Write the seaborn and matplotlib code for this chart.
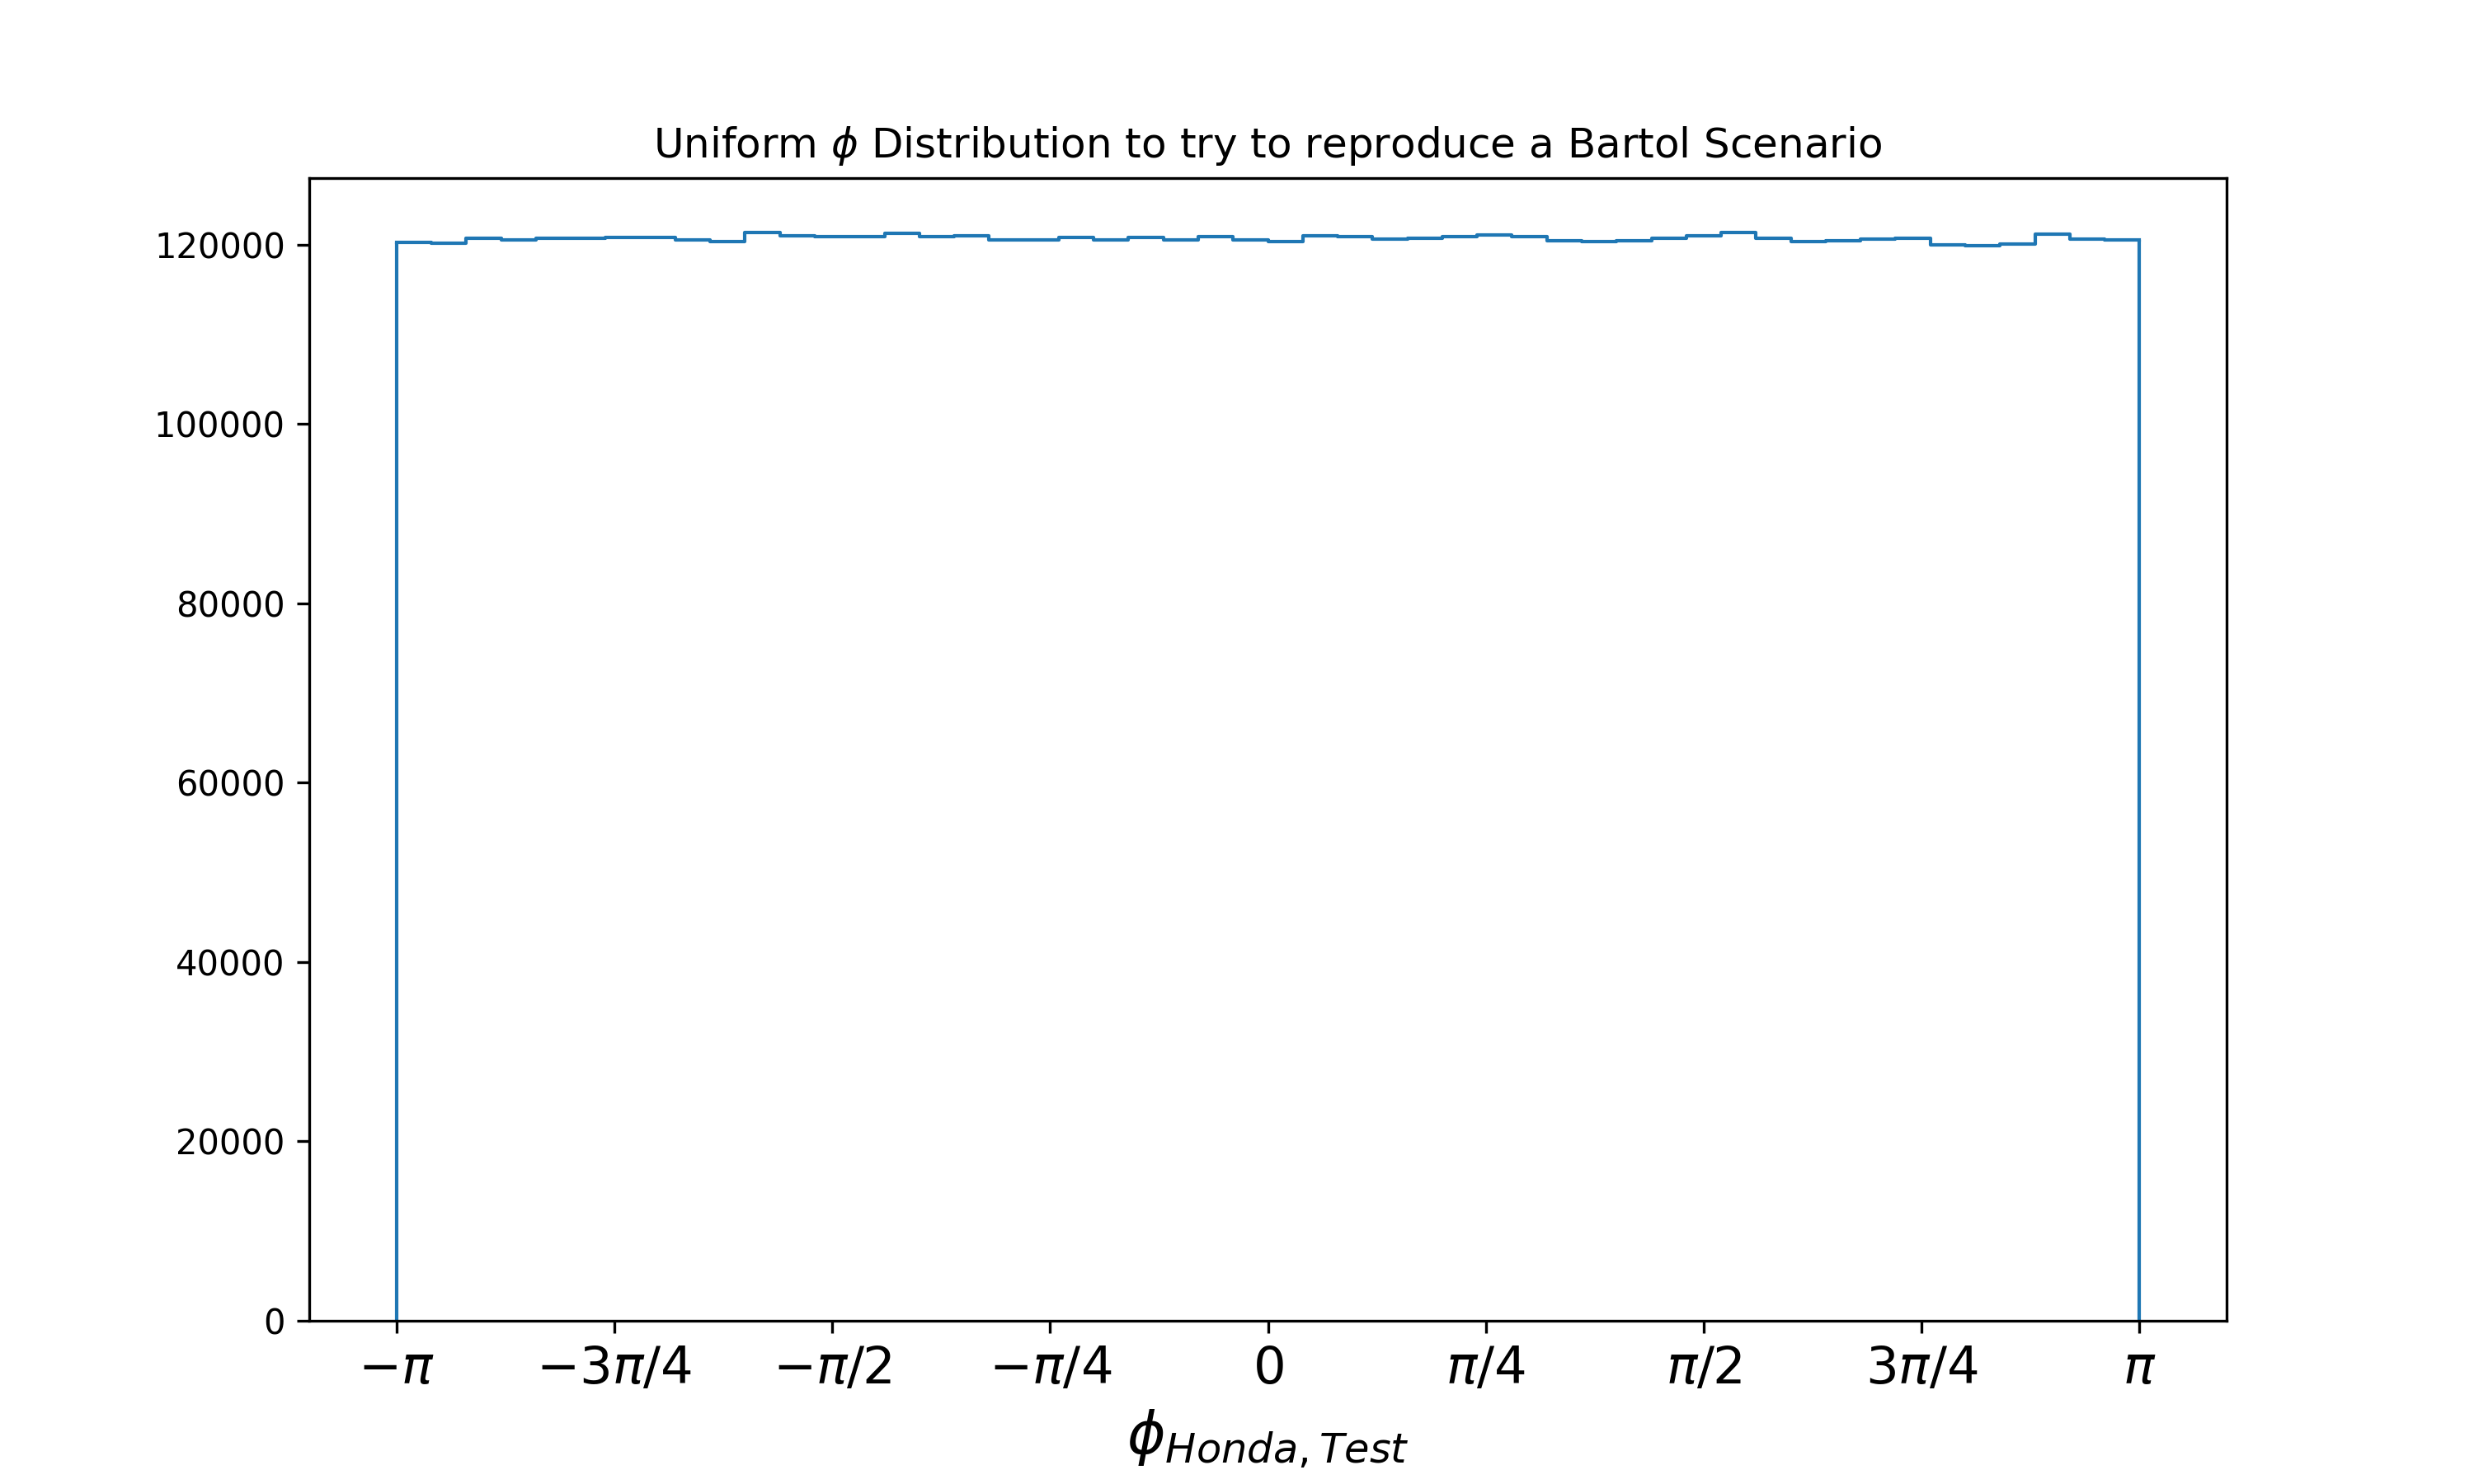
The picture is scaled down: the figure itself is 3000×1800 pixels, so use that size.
import matplotlib

matplotlib.use("Agg")
import matplotlib.pyplot as plt
import numpy as np
import pandas as pd
import seaborn as sns

# Counts per bin (50 equal bins over [-pi, pi])
bin_counts = [
    120262, 120186, 120722, 120538, 120707, 120737, 120829, 120829, 120553, 120370,
    121350, 121013, 120860, 120921, 121258, 120890, 120998, 120523, 120523, 120829,
    120523, 120829, 120523, 120921, 120523, 120370, 120982, 120890, 120615, 120722,
    120890, 121090, 120890, 120446, 120354, 120446, 120722, 121013, 121350, 120737,
    120293, 120385, 120630, 120737, 120002, 119910, 120094, 121166, 120645, 120553,
]
phi_min = -np.pi
phi_max = np.pi
tick_labels = [
    r"$-\pi$", r"$-3\pi/4$", r"$-\pi/2$", r"$-\pi/4$", r"$0$",
    r"$\pi/4$", r"$\pi/2$", r"$3\pi/4$", r"$\pi$",
]


def make_plot():
    n_bins = len(bin_counts)
    edges = np.linspace(phi_min, phi_max, n_bins + 1)
    centers = 0.5 * (edges[:-1] + edges[1:])
    df = pd.DataFrame({"phi": centers, "n": bin_counts})

    fig, ax = plt.subplots(figsize=(10, 6), dpi=300)
    color = sns.color_palette("tab10")[0]
    sns.histplot(
        data=df,
        x="phi",
        weights="n",
        bins=n_bins,
        binrange=(phi_min, phi_max),
        element="step",
        fill=False,
        color=color,
        linewidth=1.0,
        ax=ax,
    )
    # close the outline down to zero at both ends, like histtype="step"
    ax.vlines(
        [edges[0], edges[-1]],
        0,
        [bin_counts[0], bin_counts[-1]],
        color=color,
        linewidth=1.0,
    )

    span = phi_max - phi_min
    ax.set_xlim(phi_min - 0.05 * span, phi_max + 0.05 * span)
    ax.set_ylim(0, 1.05 * max(bin_counts))
    ax.set_xticks(np.linspace(phi_min, phi_max, len(tick_labels)))
    ax.set_xticklabels(tick_labels, fontsize=15)
    ax.set_ylabel("")
    ax.set_xlabel(r"$\phi_{Honda,Test}$", fontsize=17)
    ax.set_title(r"Uniform $\phi$ Distribution to try to reproduce a Bartol Scenario")
    fig.savefig("out.png")


if __name__ == "__main__":
    make_plot()
